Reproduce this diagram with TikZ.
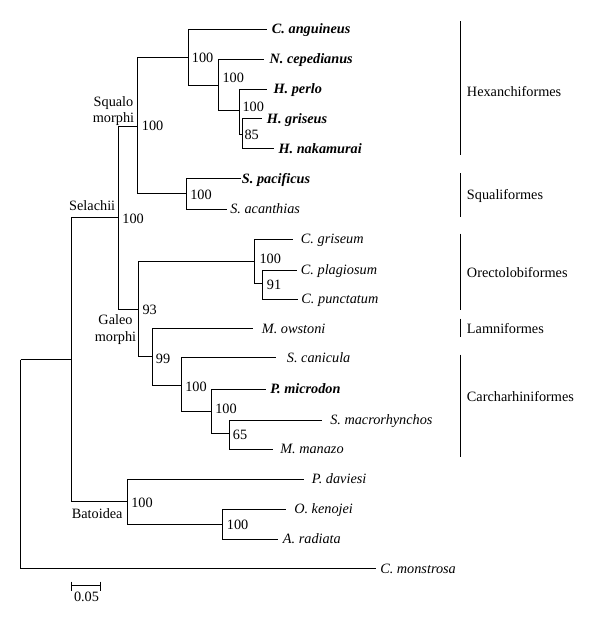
\documentclass[tikz,border=0pt]{standalone}
\usepackage{fontspec}
\setmainfont{Liberation Serif}
\begin{document}
\begin{tikzpicture}[x=0.75pt,y=-0.75pt,
  br/.style={line width=0.8pt},
  lbl/.style={anchor=west,inner sep=0pt,text height=0.66em,text depth=0pt},
  tx/.style={lbl,font=\itshape},
  tb/.style={lbl,font=\bfseries\itshape},
  bs/.style={lbl},
  grp/.style={inner sep=0pt,align=center},
  clade/.style={lbl}]
\fontsize{10.7}{12.2}\selectfont
\useasboundingbox (0,0) rectangle (600,627);
% internal nodes
\coordinate (root) at (20.5,359.5);
\coordinate (elas) at (71.5,359.5);
\coordinate (sela) at (118.5,217.5);
\coordinate (squa) at (137.5,126.5);
\coordinate (hexa) at (188.5,57.5);
\coordinate (ncepn) at (218.5,85.5);
\coordinate (hexs) at (239.5,110.5);
\coordinate (hgn) at (242.5,134.5);
\coordinate (squf) at (186.5,193.5);
\coordinate (gale) at (138.5,309.5);
\coordinate (orec) at (254.5,261.5);
\coordinate (chil) at (262.5,283.5);
\coordinate (lamc) at (152.5,356.5);
\coordinate (carc) at (181.5,385.5);
\coordinate (pmn) at (211.5,411.5);
\coordinate (smn) at (229.5,433.5);
\coordinate (bato) at (127.5,501.5);
\coordinate (okn) at (222.5,524.5);
% leaf ends
\coordinate (cang) at (266.5,29.5);
\coordinate (ncep) at (263.5,59.5);
\coordinate (hper) at (266.5,89.5);
\coordinate (hgri) at (261.5,118.5);
\coordinate (hnak) at (273.5,148.5);
\coordinate (spac) at (240.5,178.5);
\coordinate (saca) at (226.5,209.5);
\coordinate (cgri) at (292.5,239.5);
\coordinate (cpla) at (296.5,270.5);
\coordinate (cpun) at (297.5,299.5);
\coordinate (mows) at (252.5,328.5);
\coordinate (scan) at (275.5,357.5);
\coordinate (pmic) at (265.5,389.5);
\coordinate (smac) at (321.5,420.5);
\coordinate (mman) at (272.5,449.5);
\coordinate (pdav) at (303.5,479.5);
\coordinate (oken) at (285.5,509.5);
\coordinate (arad) at (277.5,539.5);
\coordinate (cmon) at (375.5,568.5);
% branches
\draw[br] (root) |- (elas);
\draw[br] (root) |- (cmon);
\draw[br] (elas) |- (sela);
\draw[br] (elas) |- (bato);
\draw[br] (sela) |- (squa);
\draw[br] (sela) |- (gale);
\draw[br] (squa) |- (hexa);
\draw[br] (squa) |- (squf);
\draw[br] (hexa) |- (cang);
\draw[br] (hexa) |- (ncepn);
\draw[br] (ncepn) |- (ncep);
\draw[br] (ncepn) |- (hexs);
\draw[br] (hexs) |- (hper);
\draw[br] (hexs) |- (hgn);
\draw[br] (hgn) |- (hgri);
\draw[br] (hgn) |- (hnak);
\draw[br] (squf) |- (spac);
\draw[br] (squf) |- (saca);
\draw[br] (gale) |- (orec);
\draw[br] (gale) |- (lamc);
\draw[br] (orec) |- (cgri);
\draw[br] (orec) |- (chil);
\draw[br] (chil) |- (cpla);
\draw[br] (chil) |- (cpun);
\draw[br] (lamc) |- (mows);
\draw[br] (lamc) |- (carc);
\draw[br] (carc) |- (scan);
\draw[br] (carc) |- (pmn);
\draw[br] (pmn) |- (pmic);
\draw[br] (pmn) |- (smn);
\draw[br] (smn) |- (smac);
\draw[br] (smn) |- (mman);
\draw[br] (bato) |- (pdav);
\draw[br] (bato) |- (okn);
\draw[br] (okn) |- (oken);
\draw[br] (okn) |- (arad);
% taxon labels
\node[tb] (Lcang) at (271.7,29) {C. anguineus};
\node[tb] (Lncep) at (269.3,59) {N. cepedianus};
\node[tb] (Lhper) at (273.3,89) {H. perlo};
\node[tb] (Lhgri) at (266.7,118.3) {H. griseus};
\node[tb] (Lhnak) at (278.3,148.3) {H. nakamurai};
\node[tb] (Lspac) at (241.7,178.3) {S. pacificus};
\node[tx] (Lsaca) at (230,209) {S. acanthias};
\node[tx] (Lcgri) at (300.7,239) {C. griseum};
\node[tx] (Lcpla) at (300.7,270) {C. plagiosum};
\node[tx] (Lcpun) at (301.2,299) {C. punctatum};
\node[tx] (Lmows) at (261.7,328.3) {M. owstoni};
\node[tx] (Lscan) at (286.7,357.7) {S. canicula};
\node[tb] (Lpmic) at (270,389) {P. microdon};
\node[tx] (Lsmac) at (330,420) {S. macrorhynchos};
\node[tx] (Lmman) at (280,449) {M. manazo};
\node[tx] (Lpdav) at (311.7,479) {P. daviesi};
\node[tx] (Loken) at (294,509) {O. kenojei};
\node[tx] (Larad) at (282.7,539) {A. radiata};
\node[tx] (Lcmon) at (380,568.3) {C. monstrosa};
% bootstrap values
\node[bs] (b1) at (191.7,58) {100};
\node[bs] (b2) at (222.3,77.3) {100};
\node[bs] (b3) at (242.3,106.7) {100};
\node[bs] (b4) at (244.3,135) {85};
\node[bs] (b5) at (141.7,126) {100};
\node[bs] (b6) at (190,195) {100};
\node[bs] (b7) at (122.2,218.3) {100};
\node[bs] (b8) at (259.3,258.3) {100};
\node[bs] (b9) at (266.7,284.3) {91};
\node[bs] (b10) at (142.3,310) {93};
\node[bs] (b11) at (155.7,358.3) {99};
\node[bs] (b12) at (185,386.7) {100};
\node[bs] (b13) at (215,408.3) {100};
\node[bs] (b14) at (232.7,434.3) {65};
\node[bs] (b15) at (131,502.7) {100};
\node[bs] (b16) at (226.7,525) {100};
% group labels
\node[grp] (gsq) at (113.5,111.3) {Squalo\\morphi};
\node[grp] (gga) at (115.5,329.6) {Galeo\\morphi};
\node[lbl,anchor=center] (gse) at (92.2,206) {Selachii};
\node[lbl,anchor=center] (gba) at (97.2,513.3) {Batoidea};
% clade bars
\draw[br] (460.5,21.5) -- (460.5,155.5);
\draw[br] (460.5,173.5) -- (460.5,216.5);
\draw[br] (460.5,233.5) -- (460.5,309.5);
\draw[br] (460.5,318.5) -- (460.5,336.5);
\draw[br] (460.5,354.5) -- (460.5,456.5);
\node[clade] (cH) at (466.7,91.7) {Hexanchiformes};
\node[clade] (cS) at (466.7,195) {Squaliformes};
\node[clade] (cO) at (466.7,272.7) {Orectolobiformes};
\node[clade] (cL) at (466.7,328.3) {Lamniformes};
\node[clade] (cC) at (466.7,396.7) {Carcharhiniformes};
% scale bar
\draw[br] (71.5,585.5) -- (100.5,585.5);
\draw[br] (71.5,581.5) -- (71.5,590.5);
\draw[br] (100.5,581.5) -- (100.5,590.5);
\node[lbl,anchor=center] (sc) at (86.5,596.7) {0.05};
\end{tikzpicture}
\end{document}
